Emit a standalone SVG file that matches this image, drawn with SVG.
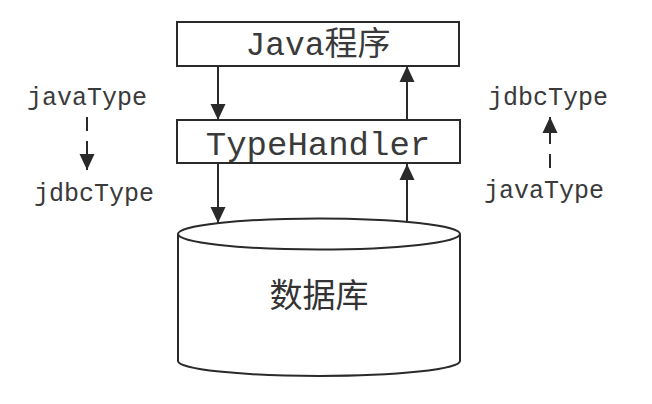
<svg xmlns="http://www.w3.org/2000/svg" width="652" height="404" viewBox="0 0 652 404">
<defs>
<style>
.box{fill:#fff;stroke:#2a2a2a;stroke-width:2}
.mono{font-family:"Liberation Mono","Noto Sans CJK SC",monospace;fill:#3a3a3a;text-anchor:middle}
.cjk{font-family:"Noto Sans CJK SC",sans-serif;fill:#333;text-anchor:middle}
.line{stroke:#2a2a2a;stroke-width:2;fill:none}
.dash{stroke:#2a2a2a;stroke-width:2;fill:none;stroke-dasharray:14 10}
</style>
<marker id="ah" markerUnits="userSpaceOnUse" markerWidth="18" markerHeight="18" viewBox="0 0 18 18" refX="16" refY="9" orient="auto">
<path d="M0,1.5 L16,9 L0,16.5 Z" fill="#2a2a2a"/>
</marker>
</defs>
<rect width="652" height="404" fill="#fff"/>
<g id="java-program">
<rect class="box" x="177" y="22" width="282" height="44"/>
<text class="mono" x="318" y="55" font-size="33">Java程序</text>
</g>
<g id="type-handler">
<rect class="box" x="177" y="120" width="283" height="43"/>
<text class="mono" x="318" y="155" font-size="34">TypeHandler</text>
</g>
<g id="database">
<path class="box" d="M178,234 L178,361 A141,15 0 0 0 460,361 L460,234"/>
<ellipse class="box" cx="319" cy="234" rx="141" ry="15.5"/>
<text class="cjk" x="319" y="307" font-size="33">数据库</text>
</g>
<g id="left-labels">
<text class="mono" x="87" y="105" font-size="25">javaType</text>
<text class="mono" x="94" y="201" font-size="25">jdbcType</text>
</g>
<g id="right-labels">
<text class="mono" x="548" y="105" font-size="25">jdbcType</text>
<text class="mono" x="544" y="198" font-size="25">javaType</text>
</g>
<g id="connectors">
<line class="line" x1="218" y1="67" x2="218" y2="120" marker-end="url(#ah)"/>
<line class="line" x1="218" y1="164" x2="218" y2="223" marker-end="url(#ah)"/>
<line class="line" x1="407" y1="222" x2="407" y2="164" marker-end="url(#ah)"/>
<line class="line" x1="407" y1="120" x2="407" y2="66" marker-end="url(#ah)"/>
<line class="dash" x1="87" y1="117" x2="87" y2="170" marker-end="url(#ah)"/>
<line class="dash" x1="550" y1="168" x2="550" y2="117" marker-end="url(#ah)"/>
</g>
</svg>
